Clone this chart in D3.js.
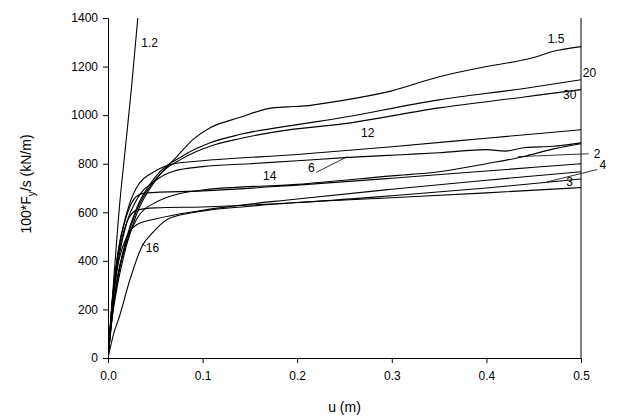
<!DOCTYPE html>
<html>
<head>
<meta charset="utf-8">
<script src="https://cdn.jsdelivr.net/npm/d3@7"></script>
<style>
  body { margin: 0; background: #fff; }
  text { font-family: Arial, "Liberation Sans", sans-serif; }
</style>
</head>
<body>
<div id="chart"></div>
<script>
const width = 620,
    height = 420,
    margin = ({ top: 18, right: 39, bottom: 62, left: 108 });

// curve data: u (m) and 100*Fy/s (kN/m)
const c12 = [[0,0],[0.006,320],[0.0125,640],[0.0177,840],[0.025,1120],[0.0315,1400]];
const c15 = [[0,0],[0.005,180],[0.01,300],[0.02,470],[0.03,590],[0.05,730],[0.073,830],[0.09,900],[0.108,948],[0.139,990],[0.171,1028],[0.19,1034],[0.205,1037],[0.25,1062],[0.3,1100],[0.35,1158],[0.4,1200],[0.45,1237],[0.47,1262],[0.5,1282]];
const c20 = [[0,0],[0.005,200],[0.01,330],[0.02,500],[0.03,615],[0.05,745],[0.079,832],[0.108,886],[0.139,920],[0.2,961],[0.234,981],[0.35,1063],[0.44,1110],[0.5,1146]];
const c30 = [[0,0],[0.005,190],[0.01,320],[0.02,490],[0.03,605],[0.05,735],[0.079,822],[0.108,872],[0.139,903],[0.18,933],[0.25,965],[0.35,1030],[0.44,1075],[0.5,1105]];
const cTwelve = [[0,0],[0.005,250],[0.01,420],[0.02,600],[0.03,700],[0.05,770],[0.07,800],[0.1,812],[0.2,838],[0.3,870],[0.4,905],[0.5,940]];
const cSix = [[0,0],[0.005,230],[0.01,380],[0.02,560],[0.03,650],[0.05,730],[0.07,770],[0.1,788],[0.15,800],[0.2,812],[0.25,825],[0.31,837],[0.35,845],[0.4,858],[0.42,852],[0.44,866],[0.47,872],[0.5,886]];
const cTwo = [[0,0],[0.005,200],[0.01,330],[0.02,480],[0.03,570],[0.05,640],[0.1,692],[0.2,715],[0.3,750],[0.35,767],[0.4,800],[0.44,830],[0.47,860],[0.5,882]];
const cFourteen = [[0,0],[0.005,260],[0.01,420],[0.02,590],[0.03,665],[0.04,680],[0.1,688],[0.2,712],[0.3,740],[0.4,770],[0.5,800]];
const cFour = [[0,0],[0.005,220],[0.01,370],[0.02,500],[0.03,548],[0.05,572],[0.1,608],[0.2,655],[0.3,695],[0.4,732],[0.5,767]];
const cThree = [[0,0],[0.005,250],[0.01,400],[0.02,560],[0.03,608],[0.05,618],[0.1,622],[0.2,640],[0.3,668],[0.4,700],[0.5,737]];
const cSixteen = [[0,0],[0.006,100],[0.012,170],[0.023,320],[0.036,460],[0.047,515],[0.065,575],[0.097,603],[0.15,625],[0.2,640],[0.3,660],[0.4,680],[0.5,702]];

const curves = [c12, c15, c20, c30, cTwelve, cSix, cTwo, cFourteen, cFour, cThree, cSixteen];

// labels: text, label position, optional leader start/end (data units)
const labels = [
  { t: "1.2", x: 0.044, y: 1297 },
  { t: "1.5", x: 0.4738, y: 1314 },
  { t: "20", x: 0.509, y: 1174 },
  { t: "30", x: 0.488, y: 1083 },
  { t: "12", x: 0.2745, y: 926 },
  { t: "6", x: 0.215, y: 782, lx: 0.22, ly: 764, ex: 0.253, ey: 829 },
  { t: "14", x: 0.171, y: 750 },
  { t: "2", x: 0.517, y: 841, lx: 0.508, ly: 841, ex: 0.433, ey: 829 },
  { t: "4", x: 0.523, y: 795, lx: 0.517, ly: 776, ex: 0.464, ey: 725 },
  { t: "3", x: 0.488, y: 725 },
  { t: "16", x: 0.047, y: 453, lx: 0.04, ly: 460, ex: 0.036, ey: 470 }
];

const xTicks = [0, 0.1, 0.2, 0.3, 0.4, 0.5];
const yTicks = [0, 200, 400, 600, 800, 1000, 1200, 1400];

const svg = d3.select("#chart")
    .append("svg")
    .attr("width", width)
    .attr("height", height);

let x = d3.scaleLinear()
    .domain([0, 0.5])
    .range([margin.left, width - margin.right]);

let y = d3.scaleLinear()
    .domain([0, 1400])
    .range([height - margin.bottom, margin.top]);

svg.append("defs").append("clipPath")
    .attr("id", "clip")
    .append("rect")
    .attr("x", margin.left)
    .attr("y", margin.top)
    .attr("width", width - margin.left - margin.right)
    .attr("height", height - margin.top - margin.bottom);

let line = d3.line()
    .x(d => x(d[0]))
    .y(d => y(d[1]))
    .curve(d3.curveMonotoneX);

svg.append("g")
    .attr("clip-path", "url(#clip)")
    .selectAll("path")
    .data(curves)
    .join("path")
    .attr("d", line)
    .attr("fill", "none")
    .attr("stroke", "#000")
    .attr("stroke-width", 1.1);

// axes
svg.append("g")
    .attr("transform", `translate(0,${height - margin.bottom})`)
    .call(d3.axisBottom(x).tickValues(xTicks).tickFormat(d3.format(".1f")).tickSizeOuter(0).tickSize(5).tickPadding(8))
    .call(g => g.selectAll("text").attr("font-size", 12).attr("fill", "#000"))
    .call(g => g.select(".domain").attr("stroke", "#000"));

svg.append("g")
    .attr("transform", `translate(${margin.left},0)`)
    .call(d3.axisLeft(y).tickValues(yTicks).tickFormat(d3.format("d")).tickSizeOuter(0).tickSize(5).tickPadding(5))
    .call(g => g.selectAll("text").attr("font-size", 12).attr("fill", "#000"))
    .call(g => g.select(".domain").attr("stroke", "#000"));

// right border
svg.append("line")
    .attr("x1", x(0.5)).attr("x2", x(0.5))
    .attr("y1", y(1400)).attr("y2", y(0))
    .attr("stroke", "#000");

// leaders
svg.append("g")
    .selectAll("line")
    .data(labels.filter(d => d.ex !== undefined))
    .join("line")
    .attr("x1", d => x(d.lx))
    .attr("y1", d => y(d.ly))
    .attr("x2", d => x(d.ex))
    .attr("y2", d => y(d.ey))
    .attr("stroke", "#000")
    .attr("stroke-width", 0.8);

svg.append("g")
    .selectAll("text")
    .data(labels)
    .join("text")
    .attr("x", d => x(d.x))
    .attr("y", d => y(d.y))
    .attr("text-anchor", "middle")
    .attr("dominant-baseline", "central")
    .attr("font-size", 12)
    .attr("fill", "#000")
    .text(d => d.t);

svg.append("text")
    .attr("x", (margin.left + width - margin.right) / 2)
    .attr("y", 412)
    .attr("text-anchor", "middle")
    .attr("font-size", 14)
    .text("u (m)");

let yl = svg.append("text")
    .attr("transform", "translate(31,184) rotate(-90)")
    .attr("text-anchor", "middle")
    .attr("font-size", 14);
yl.append("tspan").text("100*F");
yl.append("tspan").attr("font-size", 10).attr("dy", 4).text("y");
yl.append("tspan").attr("dy", -4).text("/s (kN/m)");
</script>
</body>
</html>
